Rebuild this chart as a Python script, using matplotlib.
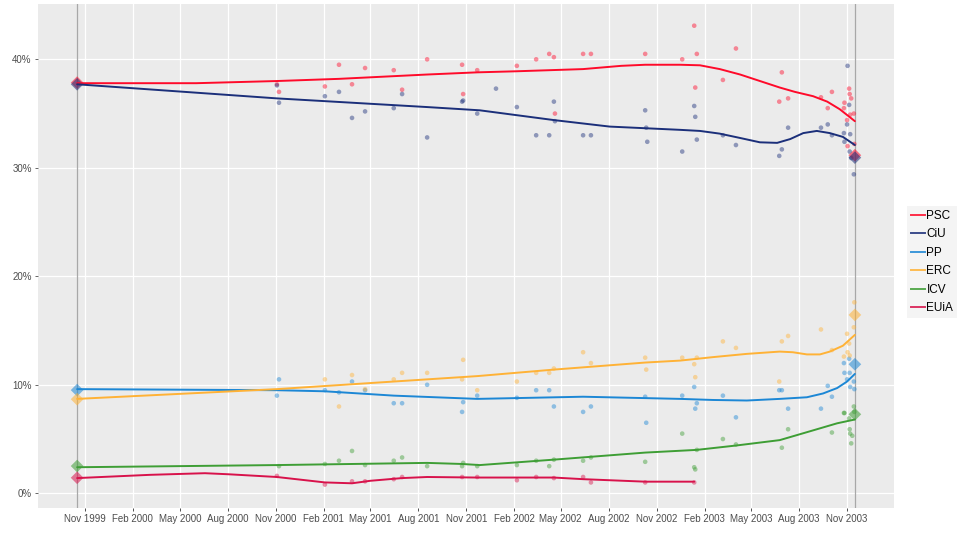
import numpy as np
import pandas as pd
import matplotlib
matplotlib.use("Agg")
import matplotlib.pyplot as plt
import matplotlib.dates as mdates
from matplotlib.lines import Line2D

plt.rcParams['font.family'] = ['Liberation Sans', 'DejaVu Sans']

parties = ["PSC", "CiU", "PP", "ERC", "ICV", "EUiA"]
colors = {"PSC": "#FF0A2A", "CiU": "#1B2F7A", "PP": "#1C87D5",
          "ERC": "#FFB236", "ICV": "#3E9E35", "EUiA": "#D8124B"}

nan = np.nan
poll_dates = ["2000-11-03", "2000-11-07", "2001-02-03", "2001-03-02", "2001-03-27", "2001-04-21",
              "2001-06-15", "2001-07-01", "2001-08-18", "2001-10-24", "2001-10-26", "2001-11-22",
              "2001-12-28", "2002-02-06", "2002-03-15", "2002-04-09", "2002-04-18", "2002-04-20",
              "2002-06-13", "2002-06-28", "2002-10-10", "2002-10-12", "2002-10-14", "2002-12-20",
              "2003-01-12", "2003-01-14", "2003-01-17", "2003-03-08", "2003-04-02", "2003-06-24",
              "2003-06-29", "2003-07-11", "2003-09-12", "2003-09-25", "2003-10-03", "2003-10-26",
              "2003-10-27", "2003-11-01", "2003-11-02", "2003-11-05", "2003-11-06", "2003-11-07",
              "2003-11-09", "2003-11-11", "2003-11-14", "2003-11-15"]
poll_PSC = [37.7, 37.0, 37.5, 39.5, 37.7, 39.2, 39.0, 37.2, 40.0, 39.5, 36.8, 39.0,
            nan, 39.4, 40.0, 40.5, 40.2, 35.0, 40.5, 40.5, 40.5, nan, nan, 40.0,
            43.1, 37.4, 40.5, 38.1, 41.0, 36.1, 38.8, 36.4, 36.5, 35.5, 37.0, 35.5,
            36.0, 34.4, 32.0, 37.3, 36.8, 34.9, 36.4, nan, 35.0, 32.2]
poll_CiU = [37.6, 36.0, 36.6, 37.0, 34.6, 35.2, 35.5, 36.8, 32.8, 36.1, 36.2, 35.0,
            37.3, 35.6, 33.0, 33.0, 36.1, 34.3, 33.0, 33.0, 35.3, 33.7, 32.4, 31.5,
            35.7, 34.7, 32.6, 33.0, 32.1, 31.1, 31.7, 33.7, 33.7, 34.0, 33.0, 33.2,
            32.4, 34.0, 39.4, 35.8, 31.5, 33.1, 30.9, nan, 29.4, nan]
poll_PP = [9.0, 10.5, 9.5, 9.3, 10.3, 9.5, 8.3, 8.3, 10.0, 7.5, 8.4, 9.0,
           nan, 8.8, 9.5, 9.5, 8.0, nan, 7.5, 8.0, 8.9, 6.5, nan, 9.0,
           9.8, 7.8, 8.3, 9.0, 7.0, 9.5, 9.5, 7.8, 7.8, 9.9, 8.9, 12.0,
           11.1, 10.5, nan, 12.4, 11.1, 9.8, nan, nan, 10.3, 9.6]
poll_ERC = [nan, nan, 10.5, 8.0, 10.9, 9.6, 10.5, 11.1, 11.1, 10.5, 12.3, 9.5,
            nan, 10.3, 11.1, 11.1, 11.5, nan, 13.0, 12.0, 12.5, 11.4, nan, 12.5,
            11.9, 10.7, 12.5, 14.0, 13.4, 10.3, 14.0, 14.5, 15.1, nan, 13.2, 12.6,
            nan, 14.7, 13.0, 13.8, 12.7, nan, nan, nan, 15.3, 17.6]
poll_ICV = [nan, 2.5, 2.7, 3.0, 3.9, 2.6, 3.0, 3.3, 2.5, 2.5, 2.8, 2.5,
            nan, 2.6, 3.0, 2.5, 3.1, nan, 3.0, 3.3, 2.9, nan, nan, 5.5,
            2.4, 2.2, 4.0, 5.0, 4.5, nan, 4.2, 5.9, nan, nan, 5.6, 7.4,
            7.4, nan, nan, 6.9, 5.9, 5.5, 4.6, 5.3, 8.0, 7.5]
poll_EUiA = [1.6, nan, 0.8, nan, 1.1, 1.1, 1.3, 1.5, nan, 1.5, nan, 1.5,
             nan, 1.2, 1.5, nan, 1.4, nan, 1.5, 1.0, 1.0, nan, nan, nan,
             1.0, nan, nan, nan, nan, nan, nan, nan, nan, nan, nan, nan,
             nan, nan, nan, nan, nan, nan, nan, nan, nan, nan]
polls = {"PSC": poll_PSC, "CiU": poll_CiU, "PP": poll_PP,
         "ERC": poll_ERC, "ICV": poll_ICV, "EUiA": poll_EUiA}

election_dates = ["1999-10-17", "2003-11-16"]
results = {"PSC": [37.85, 31.16], "CiU": [37.70, 30.94], "PP": [9.51, 11.89],
           "ERC": [8.67, 16.44], "ICV": [2.51, 7.28], "EUiA": [1.43, nan]}

# trend lines
trend_PSC_d = ["1999-10-17", "2000-06-01", "2000-11-03", "2001-03-02", "2001-08-18", "2001-11-22",
               "2002-02-06", "2002-06-13", "2002-08-25", "2002-10-10", "2002-12-16", "2003-01-23",
               "2003-03-02", "2003-04-10", "2003-05-18", "2003-06-25", "2003-07-24", "2003-08-28",
               "2003-09-24", "2003-10-18", "2003-11-16"]
trend_PSC_v = [37.8, 37.8, 38.0, 38.2, 38.6, 38.8, 38.9, 39.1, 39.4, 39.5, 39.5, 39.45,
               39.1, 38.6, 38.0, 37.4, 37.0, 36.6, 36.1, 35.4, 34.3]
trend_CiU_d = ["1999-10-17", "2000-11-03", "2001-08-18", "2001-11-27", "2002-04-18", "2002-08-03",
               "2002-12-16", "2003-01-23", "2003-03-02", "2003-04-10", "2003-05-18", "2003-06-20",
               "2003-07-15", "2003-08-09", "2003-09-04", "2003-09-29", "2003-10-24", "2003-11-16"]
trend_CiU_v = [37.7, 36.4, 35.6, 35.3, 34.4, 33.8, 33.5, 33.4, 33.15, 32.75, 32.35, 32.3,
               32.65, 33.2, 33.4, 33.2, 32.85, 32.1]
trend_PP_d = ["1999-10-17", "2000-11-03", "2001-02-03", "2001-06-15", "2001-11-22", "2002-06-13",
              "2002-12-16", "2003-02-17", "2003-04-23", "2003-06-25", "2003-08-16", "2003-09-16",
              "2003-10-13", "2003-11-01", "2003-11-16"]
trend_PP_v = [9.6, 9.5, 9.4, 9.0, 8.7, 8.9, 8.7, 8.6, 8.55, 8.7, 8.85, 9.2, 9.7, 10.3, 11.0]
trend_ERC_d = ["1999-10-17", "2000-11-03", "2001-03-27", "2001-08-18", "2001-11-22", "2002-04-18",
               "2002-10-10", "2002-12-16", "2003-02-17", "2003-04-23", "2003-06-25", "2003-07-20",
               "2003-08-16", "2003-09-10", "2003-09-29", "2003-10-24", "2003-11-16"]
trend_ERC_v = [8.7, 9.6, 10.05, 10.5, 10.8, 11.4, 12.05, 12.23, 12.55, 12.85, 13.06, 13.0,
               12.8, 12.8, 13.06, 13.6, 14.6]
trend_ICV_d = ["1999-10-17", "2000-11-03", "2001-08-18", "2001-10-24", "2001-11-27", "2002-04-18",
               "2002-10-10", "2003-01-17", "2003-04-02", "2003-06-25", "2003-08-28", "2003-10-13",
               "2003-11-16"]
trend_ICV_v = [2.4, 2.6, 2.8, 2.7, 2.6, 3.1, 3.75, 4.0, 4.4, 4.9, 5.8, 6.45, 6.8]
trend_EUiA_d = ["1999-10-17", "2000-03-05", "2000-06-18", "2000-08-03", "2000-11-03", "2001-02-03",
                "2001-03-27", "2001-05-01", "2001-07-01", "2001-08-18", "2001-11-22", "2002-04-18",
                "2002-06-13", "2002-10-10", "2003-01-12"]
trend_EUiA_v = [1.4, 1.7, 1.85, 1.75, 1.5, 1.0, 0.92, 1.15, 1.4, 1.5, 1.45, 1.45, 1.3, 1.07, 1.07]
trends = {"PSC": (trend_PSC_d, trend_PSC_v), "CiU": (trend_CiU_d, trend_CiU_v),
          "PP": (trend_PP_d, trend_PP_v), "ERC": (trend_ERC_d, trend_ERC_v),
          "ICV": (trend_ICV_d, trend_ICV_v), "EUiA": (trend_EUiA_d, trend_EUiA_v)}

tick_dates = ["1999-11-01", "2000-02-01", "2000-05-01", "2000-08-01", "2000-11-01", "2001-02-01",
              "2001-05-01", "2001-08-01", "2001-11-01", "2002-02-01", "2002-05-01", "2002-08-01",
              "2002-11-01", "2003-02-01", "2003-05-01", "2003-08-01", "2003-11-01"]
tick_labels = ["Nov 1999", "Feb 2000", "May 2000", "Aug 2000", "Nov 2000", "Feb 2001",
               "May 2001", "Aug 2001", "Nov 2001", "Feb 2002", "May 2002", "Aug 2002",
               "Nov 2002", "Feb 2003", "May 2003", "Aug 2003", "Nov 2003"]
y_ticks = [0, 10, 20, 30, 40]
y_labels = ["0%", "10%", "20%", "30%", "40%"]

W, H = 960, 534
fig = plt.figure(figsize=(W / 100, H / 100), dpi=100)
ax = fig.add_axes([38 / W, (H - 507.7) / H, (894 - 38) / W, (507.7 - 4) / H])
ax.set_facecolor("#EBEBEB")
for s in ax.spines.values():
    s.set_visible(False)

pd_dates = pd.to_datetime(poll_dates)
el_dates = pd.to_datetime(election_dates)

for d in el_dates:
    ax.axvline(d, color="#A8A8A8", lw=0.9, zorder=1.5)

for p in parties:
    vals = np.array(polls[p], dtype=float)
    ax.scatter(pd_dates, vals, s=11, color=colors[p], alpha=0.45, edgecolors="none", zorder=2)
    rv = np.array(results[p], dtype=float)
    ax.scatter(el_dates, rv, s=42, marker="D", color=colors[p], alpha=0.55,
               edgecolors="none", zorder=2.5)
    td, tv = trends[p]
    ax.plot(pd.to_datetime(td), tv, color=colors[p], lw=1.4, zorder=3,
            solid_capstyle="round", solid_joinstyle="round")

ax.set_xlim(pd.Timestamp("1999-08-03"), pd.Timestamp("2004-01-30"))
ax.set_ylim(-1.33, 45.1)
ax.set_xticks(pd.to_datetime(tick_dates))
ax.set_xticklabels(tick_labels)
ax.set_yticks(y_ticks)
ax.set_yticklabels(y_labels)
ax.tick_params(axis="both", labelsize=7, colors="#4D4D4D", length=2.5, width=0.6, pad=2)
ax.tick_params(axis="x", colors="#333333", labelcolor="#4D4D4D")
ax.grid(True, color="white", lw=0.9, zorder=0)
ax.set_axisbelow(True)

handles = [Line2D([0], [0], color=colors[p], lw=1.4, alpha=0.85) for p in parties]
leg = fig.legend(handles, parties, loc="center left", bbox_to_anchor=(907 / W, 1 - 262 / H),
                 frameon=True, fontsize=8.5, handlelength=1.2, handletextpad=0.15,
                 labelspacing=0.55, borderpad=0.3, borderaxespad=0)
leg.get_frame().set_facecolor("#F2F2F2")
leg.get_frame().set_edgecolor("none")
leg.get_frame().set_boxstyle("square", pad=0)

fig.savefig("out.png", dpi=100)
